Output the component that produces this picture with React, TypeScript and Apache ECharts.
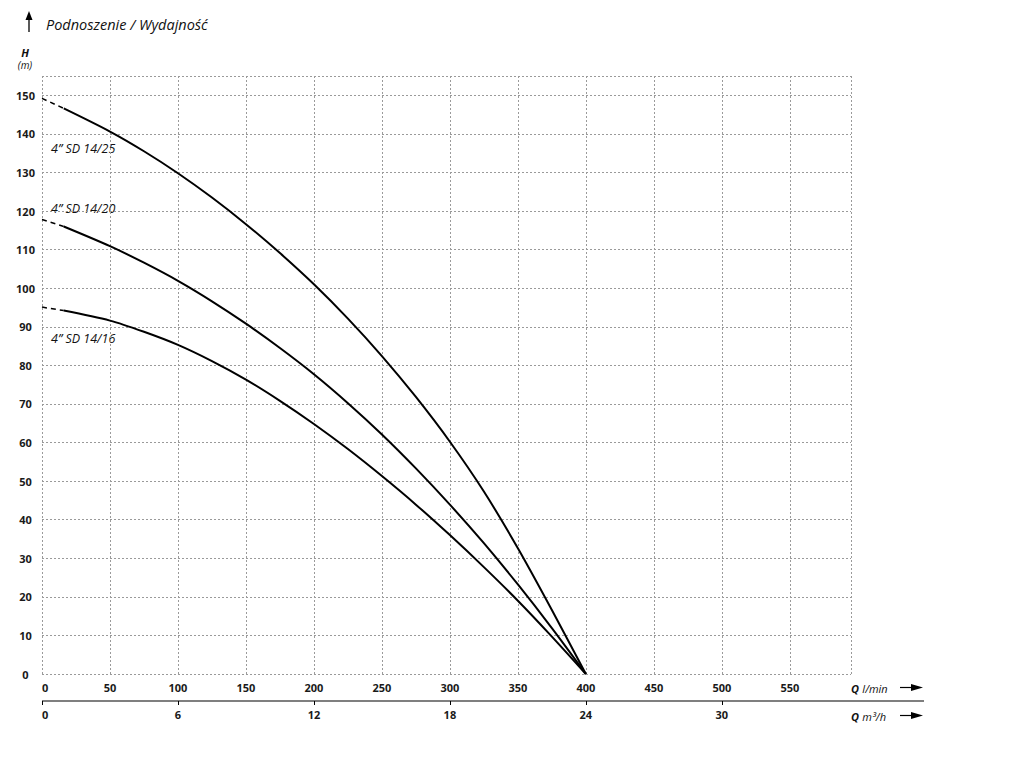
import React, { useEffect, useRef } from "react";
import * as echarts from "echarts";

// Flow Q (l/min) and head H (m)
const q25Dashed = [0, 16];
const h25Dashed = [149.2, 146.6];
const q25 = [16, 50, 75, 100, 125, 150, 175, 200, 225, 250, 275, 300, 325, 350, 375, 400];
const h25 = [146.6, 140.6, 135.5, 129.8, 123.5, 116.6, 109.1, 101, 92.1, 82.4, 71.8, 60.2, 47.3, 32.6, 16.6, 0];

const q20Dashed = [0, 16];
const h20Dashed = [117.8, 116];
const q20 = [16, 50, 75, 100, 125, 150, 175, 200, 225, 250, 275, 300, 325, 350, 375, 400];
const h20 = [116, 110.9, 106.6, 101.9, 96.6, 90.8, 84.5, 77.7, 70.2, 62.1, 53.3, 43.9, 33.9, 23.2, 11.9, 0];

const q16Dashed = [0, 16];
const h16Dashed = [95.1, 94.2];
const q16 = [16, 50, 75, 100, 125, 150, 175, 200, 225, 250, 275, 300, 325, 350, 375, 400];
const h16 = [94.2, 91.6, 88.7, 85.3, 81.1, 76.3, 70.8, 64.8, 58.3, 51.3, 43.9, 36, 27.7, 19, 9.7, 0];

const seriesNames = ["4” SD 14/25", "4” SD 14/20", "4” SD 14/16"];
const m3hTicks = [0, 6, 12, 18, 24, 30];

const pairs = (xs: number[], ys: number[]) => xs.map((x, i) => [x, ys[i]]);

const FONT = "'Open Sans', 'Noto Sans', sans-serif";
const GRID_COLOR = "#9a9a9a";

export default function App() {
  const ref = useRef<HTMLDivElement>(null);
  useEffect(() => {
    if (!ref.current) return;
    const chart = echarts.init(ref.current, null, { renderer: "svg" });
    const solid = (name: string, data: number[][]) => ({
      name,
      type: "line",
      data,
      smooth: 0.3,
      symbol: "none",
      lineStyle: { color: "#000", width: 2 },
      z: 5,
    });
    const dashed = (name: string, data: number[][]) => ({
      name,
      type: "line",
      data,
      symbol: "none",
      lineStyle: { color: "#000", width: 1.5, type: [5, 4] },
      z: 5,
    });
    const labelStyle = {
      fontFamily: FONT,
      fontStyle: "italic",
      fontSize: 12.5,
      fill: "#111",
    };
    chart.setOption({
      animation: false,
      backgroundColor: "#fff",
      grid: { left: 42, right: 170, top: 76, bottom: 83, containLabel: false },
      xAxis: [
        {
          type: "value",
          min: 0,
          max: 595,
          interval: 50,
          axisLine: { show: false },
          axisTick: { show: false },
          splitLine: {
            show: true,
            lineStyle: { color: GRID_COLOR, width: 1, type: [2, 2] },
          },
          axisLabel: {
            margin: 8,
            alignMinLabel: "left",
            fontFamily: FONT,
            fontWeight: "bold",
            fontSize: 11,
            color: "#1a1a1a",
            formatter: (v: number) => (v % 50 === 0 ? String(v) : ""),
          },
        },
        {
          type: "value",
          position: "bottom",
          offset: 27,
          min: 0,
          max: 35.7,
          axisLine: { show: false },
          axisTick: {
            show: true,
            length: 4,
            inside: false,
            customValues: m3hTicks,
            lineStyle: { color: "#000", width: 1 },
          },
          splitLine: { show: false },
          axisLabel: {
            margin: 8,
            alignMinLabel: "left",
            customValues: m3hTicks,
            fontFamily: FONT,
            fontWeight: "bold",
            fontSize: 11,
            color: "#1a1a1a",
          },
        },
      ],
      yAxis: {
        type: "value",
        min: 0,
        max: 155,
        interval: 10,
        axisLine: { show: false },
        axisTick: { show: false },
        splitLine: {
          show: true,
          lineStyle: { color: GRID_COLOR, width: 1, type: [2, 2] },
        },
        axisLabel: {
          margin: 16.5,
          align: "center",
          fontFamily: FONT,
          fontWeight: "bold",
          fontSize: 11,
          color: "#1a1a1a",
          formatter: (v: number) => (v % 10 === 0 && v <= 150 ? String(v) : ""),
        },
      },
      series: [
        dashed(seriesNames[0] + " d", pairs(q25Dashed, h25Dashed)),
        solid(seriesNames[0], pairs(q25, h25)),
        dashed(seriesNames[1] + " d", pairs(q20Dashed, h20Dashed)),
        solid(seriesNames[1], pairs(q20, h20)),
        dashed(seriesNames[2] + " d", pairs(q16Dashed, h16Dashed)),
        solid(seriesNames[2], pairs(q16, h16)),
      ],
      graphic: [
        // title
        {
          type: "text",
          left: 46,
          top: 17,
          style: {
            text: "Podnoszenie / Wydajność",
            fontFamily: FONT,
            fontStyle: "italic",
            fontSize: 14.5,
            fill: "#111",
          },
        },
        // up arrow
        { type: "line", shape: { x1: 29, y1: 32, x2: 29, y2: 18 }, style: { stroke: "#000", lineWidth: 1.3 } },
        { type: "polygon", shape: { points: [[25.5, 20], [29, 11], [32.5, 20]] }, style: { fill: "#000" } },
        // H (m)
        {
          type: "text",
          x: 25,
          y: 52,
          style: {
            text: "H",
            fontFamily: FONT,
            fontStyle: "italic",
            fontWeight: "bold",
            fontSize: 11,
            fill: "#111",
            align: "center",
            verticalAlign: "middle",
          },
        },
        {
          type: "text",
          x: 25,
          y: 65,
          style: {
            text: "(m)",
            fontFamily: FONT,
            fontStyle: "italic",
            fontSize: 10,
            fill: "#111",
            align: "center",
            verticalAlign: "middle",
          },
        },
        // series labels
        { type: "text", x: 51, y: 148, style: { ...labelStyle, text: seriesNames[0], verticalAlign: "middle" } },
        { type: "text", x: 51, y: 208, style: { ...labelStyle, text: seriesNames[1], verticalAlign: "middle" } },
        { type: "text", x: 51, y: 338, style: { ...labelStyle, text: seriesNames[2], verticalAlign: "middle" } },
        // second axis line
        { type: "line", shape: { x1: 42, y1: 701, x2: 924, y2: 701 }, style: { stroke: "#000", lineWidth: 1.2 } },
        // Q labels
        {
          type: "text",
          x: 851,
          y: 688,
          style: {
            text: "{b|Q} {i|l/min}",
            verticalAlign: "middle",
            rich: {
              b: { fontFamily: FONT, fontStyle: "italic", fontWeight: "bold", fontSize: 11, fill: "#111" },
              i: { fontFamily: FONT, fontStyle: "italic", fontSize: 11, fill: "#111" },
            },
          },
        },
        {
          type: "text",
          x: 851,
          y: 716,
          style: {
            text: "{b|Q} {i|m³/h}",
            verticalAlign: "middle",
            rich: {
              b: { fontFamily: FONT, fontStyle: "italic", fontWeight: "bold", fontSize: 11, fill: "#111" },
              i: { fontFamily: FONT, fontStyle: "italic", fontSize: 11, fill: "#111" },
            },
          },
        },
        // right arrows
        { type: "line", shape: { x1: 900, y1: 687.5, x2: 914, y2: 687.5 }, style: { stroke: "#000", lineWidth: 1.2 } },
        { type: "polygon", shape: { points: [[911, 684], [923, 687.5], [911, 691]] }, style: { fill: "#000" } },
        { type: "line", shape: { x1: 900, y1: 715.5, x2: 914, y2: 715.5 }, style: { stroke: "#000", lineWidth: 1.2 } },
        { type: "polygon", shape: { points: [[911, 712], [923, 715.5], [911, 719]] }, style: { fill: "#000" } },
      ],
    });
    return () => chart.dispose();
  }, []);
  return (
    <div
      ref={ref}
      style={{ position: "fixed", left: 0, top: 0, width: 1021, height: 757, background: "#fff" }}
    />
  );
}
